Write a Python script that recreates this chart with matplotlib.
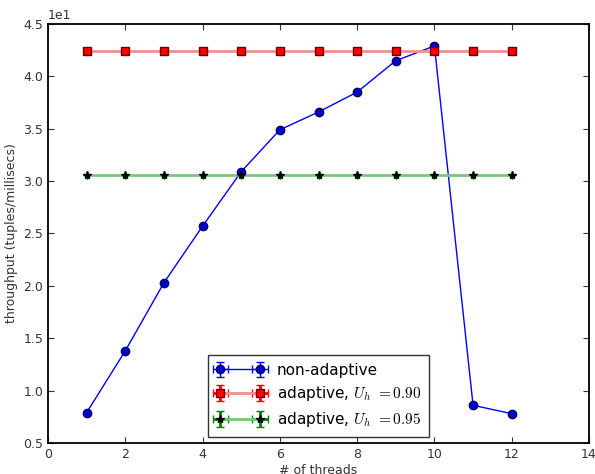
import matplotlib
matplotlib.use("Agg")
import matplotlib.pyplot as plt

threads = [1, 2, 3, 4, 5, 6, 7, 8, 9, 10, 11, 12]
non_adaptive = [7.9, 13.8, 20.3, 25.7, 30.9, 34.9, 36.6, 38.5, 41.5, 42.9, 8.6, 7.8]
adaptive_090 = [42.4] * 12
adaptive_095 = [30.6] * 12
zero = [0.0] * 12

plt.rcParams['font.family'] = ['DejaVu Sans']
plt.rcParams['mathtext.fontset'] = 'cm'

fig = plt.figure(figsize=(5.95, 4.74), dpi=100)
ax = fig.add_axes([48 / 595, 31 / 474, 541 / 595, 419 / 474])

ax.errorbar(threads, non_adaptive, xerr=zero, yerr=zero, fmt='o-', color='b',
            ecolor='b', mfc='#0000cc', mec='#000066', ms=6, lw=1, capsize=3,
            label='non-adaptive')
line_r = ax.errorbar(threads, adaptive_090, xerr=zero, yerr=zero, fmt='s-', color='r',
                     ecolor='r', mfc='r', mec='#660000', ms=5.5, lw=2, capsize=3,
                     label=r'adaptive, $U_h\ {=}0.90$')
line_r[0].set_color('#f29090')
line_r[0].set_markerfacecolor('r')
line_r[0].set_markeredgecolor('#660000')
line_g = ax.errorbar(threads, adaptive_095, xerr=zero, yerr=zero, fmt='*-', color='g',
                     ecolor='g', mfc='k', mec='k', ms=6, lw=2, capsize=3,
                     label=r'adaptive, $U_h\ {=}0.95$')
line_g[0].set_color('#7cc47c')
line_g[0].set_markerfacecolor('k')
line_g[0].set_markeredgecolor('k')

ax.set_xlim(0, 14)
ax.set_ylim(5, 45)
ax.set_xticks(range(0, 15, 2))
ax.set_yticks([5, 10, 15, 20, 25, 30, 35, 40, 45])
ax.set_yticklabels(['0.5', '1.0', '1.5', '2.0', '2.5', '3.0', '3.5', '4.0', '4.5'])
ax.text(0.0, 1.005, '1e1', transform=ax.transAxes, fontsize=9, color='#333333',
        va='bottom', ha='left')
ax.tick_params(direction='in', length=4, labelsize=9, colors='#333333',
               top=True, right=True)
for s in ax.spines.values():
    s.set_linewidth(1.3)
ax.set_xlabel('# of threads', fontsize=9, color='#333333', labelpad=2)
ax.set_ylabel('throughput (tuples/millisecs)', fontsize=9, color='#333333')

leg = ax.legend(loc='lower center', bbox_to_anchor=(0.5, 0.0), fontsize=11,
                fancybox=False, frameon=True, edgecolor='k', borderaxespad=0.4,
                numpoints=2, handlelength=3.2, labelspacing=0.45, borderpad=0.5)
leg.get_frame().set_linewidth(1.0)

fig.savefig('out.png', dpi=100)
